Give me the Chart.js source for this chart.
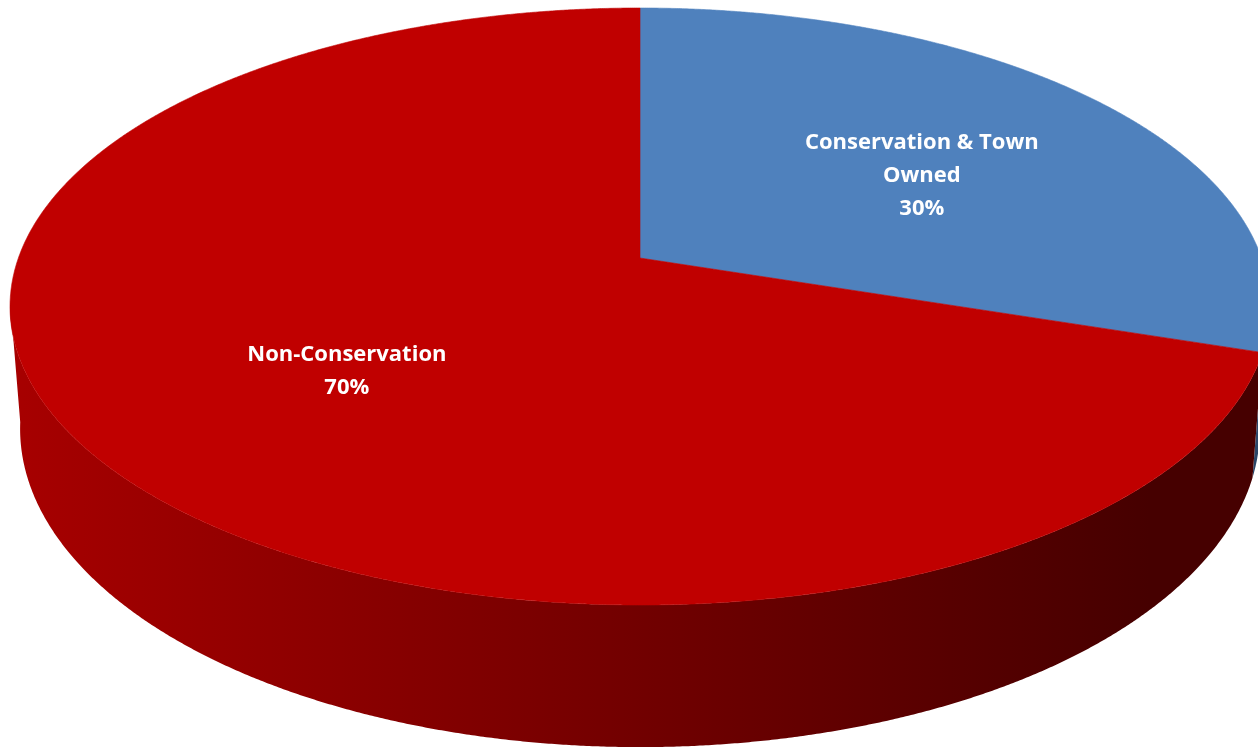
<!DOCTYPE html>
<html lang="en">
<head>
  <meta charset="UTF-8">
  <title>Land Ownership</title>
  <script src="https://cdn.jsdelivr.net/npm/chart.js"></script>
  <style>
    body {
      margin: 0;
      background-color: #ffffff;
      overflow: hidden;
    }
    #chartContainer {
      width: 1258px;
      height: 748px;
    }
  </style>
</head>
<body>

<div id="chartContainer">
  <canvas id="landChart" width="1258" height="748"></canvas>
</div>

<script>
  // Share of town land
  const labels = [['Conservation & Town', 'Owned'], ['Non-Conservation']];
  const shares = [30, 70];
  const topColors = ['#4F81BD', '#C00000'];
  const sideColors = [['#3C6494', '#2A4668'], ['#A80000', '#460000']];

  // disc tilted away from the viewer, seen in perspective
  const view = { cx: 640, cy: 258, rx: 621.6, ry: 248.7, tilt: 0.1625, depth: 119, shrink: 0.016 };
  const labelRadius = 0.57;
  const labelShift = { x: 10, y: 10 };
  const lineHeight = 33;

  function project(ang, r, drop) {
    const u = r * Math.cos(ang);
    const v = -r * Math.sin(ang);
    const w = 1 + view.tilt * v;
    const narrow = 1 - view.shrink * drop / view.depth;
    return { x: view.cx + view.rx * u * narrow / w, y: (view.cy - view.ry * v + drop) / w };
  }

  function rim(a0, a1, drop) {
    const pts = [];
    const n = Math.max(2, Math.ceil(Math.abs(a1 - a0) / 0.004));
    for (let i = 0; i <= n; i++) {
      pts.push(project(a0 + (a1 - a0) * i / n, 1, drop));
    }
    return pts;
  }

  const pie3d = {
    id: 'pie3d',
    beforeDatasetsDraw(chart) {
      const ctx = chart.ctx;
      const arcs = chart.getDatasetMeta(0).data;
      // the outer wall only shows between the two silhouette angles
      const lo = Math.asin(view.tilt) - 0.02;
      const hi = Math.PI - lo;

      ctx.save();
      arcs.forEach((arc, i) => {
        const a0 = Math.max(arc.startAngle, lo);
        const a1 = Math.min(arc.endAngle, hi);
        if (a1 <= a0) return;
        const pts = rim(a0, a1, 0).concat(rim(a1, a0, view.depth));
        const grad = ctx.createLinearGradient(0, 0, 1150, 0);
        grad.addColorStop(0, sideColors[i][0]);
        grad.addColorStop(1, sideColors[i][1]);
        ctx.beginPath();
        pts.forEach((p, k) => k ? ctx.lineTo(p.x, p.y) : ctx.moveTo(p.x, p.y));
        ctx.closePath();
        ctx.fillStyle = grad;
        ctx.fill();
      });

      // top face of each slice
      arcs.forEach((arc, i) => {
        const c = project(0, 0, 0);
        ctx.beginPath();
        ctx.moveTo(c.x, c.y);
        rim(arc.startAngle, arc.endAngle, 0).forEach(p => ctx.lineTo(p.x, p.y));
        ctx.closePath();
        ctx.fillStyle = topColors[i];
        ctx.strokeStyle = topColors[i];
        ctx.lineWidth = 0.6;
        ctx.fill();
        ctx.stroke();
      });

      // data labels
      ctx.fillStyle = '#ffffff';
      ctx.font = 'bold 22px "Open Sans"';
      ctx.textAlign = 'center';
      ctx.textBaseline = 'middle';
      arcs.forEach((arc, i) => {
        const mid = (arc.startAngle + arc.endAngle) / 2;
        const p = project(mid, labelRadius, 0);
        const lines = chart.data.labels[i].concat([shares[i] + '%']);
        const y0 = p.y + labelShift.y - (lines.length - 1) * lineHeight / 2;
        lines.forEach((t, k) => ctx.fillText(t, p.x + labelShift.x, y0 + k * lineHeight));
      });
      ctx.restore();
      return false;
    }
  };

  new Chart(document.getElementById('landChart'), {
    type: 'pie',
    data: {
      labels: labels,
      datasets: [{
        data: shares,
        backgroundColor: topColors,
        borderWidth: 0
      }]
    },
    options: {
      responsive: false,
      animation: false,
      plugins: {
        legend: { display: false },
        tooltip: { enabled: false }
      }
    },
    plugins: [pie3d]
  });
</script>

</body>
</html>
